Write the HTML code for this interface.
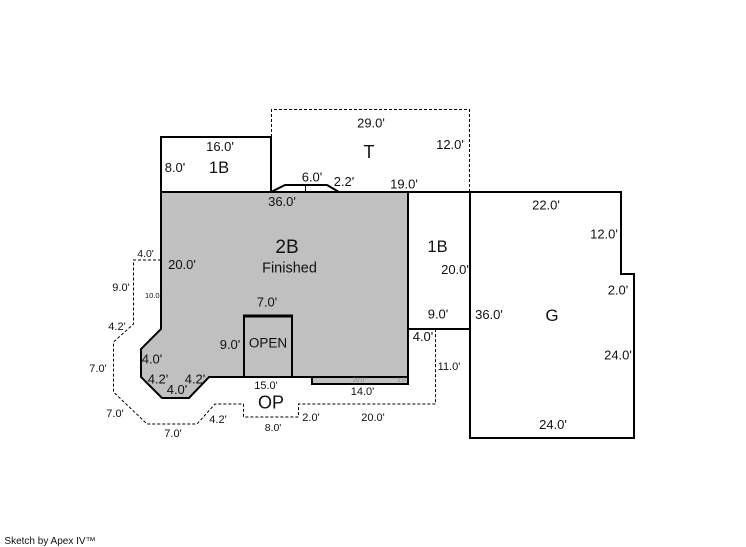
<!DOCTYPE html>
<html>
<head>
<meta charset="utf-8">
<style>
html,body{margin:0;padding:0;background:#fff;width:746px;height:547px;overflow:hidden}
svg{display:block}
text{font-family:"Liberation Sans",Arial,sans-serif;font-size:13px;fill:#111;text-anchor:middle}
.s{font-size:11px}
</style>
</head>
<body>
<svg width="746" height="547" viewBox="0 0 746 547" xmlns="http://www.w3.org/2000/svg">
<polygon points="161,192 408,192 408,384 312,384 312,377 209,377 189,398 162,398 141,377 141,349 161,329" fill="#c0c0c0" stroke="#000" stroke-width="2"/>
<polyline points="312,377 408,377" fill="none" stroke="#000" stroke-width="2"/>
<polyline points="244,377 244,316 292,316 292,377" fill="none" stroke="#000" stroke-width="2"/>
<line x1="243" y1="316" x2="293" y2="316" stroke="#000" stroke-width="3"/>
<polyline points="161,260 133.5,260 133.5,324 113.5,342 113.5,392 147,424 197,424 215,404 243.5,404 243.5,417 298.5,417 298.5,404 435.5,404 435.5,329" fill="none" stroke="#000" stroke-width="1" stroke-dasharray="3,2"/>
<polyline points="271.5,137 271.5,109.5 469.5,109.5 469.5,192" fill="none" stroke="#000" stroke-width="1" stroke-dasharray="3,2"/>
<rect x="161" y="137" width="110" height="55" fill="#fff" stroke="#000" stroke-width="2"/>
<polyline points="271,192 285,185 327,185 339,192" fill="none" stroke="#000" stroke-width="2"/>
<line x1="305.500" y1="185" x2="305.500" y2="192" stroke="#000" stroke-width="1"/>
<line x1="271" y1="192" x2="470" y2="192" stroke="#000" stroke-width="2"/>
<polyline points="408,192 408,329 470,329" fill="none" stroke="#000" stroke-width="2"/>
<polygon points="470,192 621,192 621,274 634,274 634,438 470,438" fill="#fff" stroke="#000" stroke-width="2"/>

<text x="220" y="151">16.0'</text>
<text x="175" y="172">8.0'</text>
<text x="219" y="173" style="font-size:16.500px">1B</text>
<text x="371" y="127.500">29.0'</text>
<text x="369" y="158" style="font-size:18px">T</text>
<text x="450" y="149">12.0'</text>
<text x="312" y="181.500">6.0'</text>
<text x="344" y="186">2.2'</text>
<text x="404" y="188.500">19.0'</text>
<text x="282" y="206">36.0'</text>
<text x="287" y="253" style="font-size:19px">2B</text>
<text x="289.500" y="272.500" style="font-size:14.500px">Finished</text>
<text x="182" y="269">20.0'</text>
<text x="145.500" y="257" style="font-size:10.500px">4.0'</text>
<text x="121" y="291" style="font-size:11px">9.0'</text>
<text x="153" y="298" style="font-size:7.500px">10.0'</text>
<text x="117" y="330" class="s">4.2'</text>
<text x="98" y="372" class="s">7.0'</text>
<text x="115" y="417" class="s">7.0'</text>
<text x="173" y="437" class="s">7.0'</text>
<text x="218" y="423" class="s">4.2'</text>
<text x="267" y="306.500">7.0'</text>
<text x="230" y="349">9.0'</text>
<text x="268" y="347.500" style="font-size:13.500px">OPEN</text>
<text x="152" y="363.500">4.0'</text>
<text x="158" y="383.500">4.2'</text>
<text x="195" y="383.500">4.2'</text>
<text x="177" y="394">4.0'</text>
<text x="266" y="389" style="font-size:11px">15.0'</text>
<text x="271" y="408.500" style="font-size:18px">OP</text>
<text x="273" y="431" style="font-size:10.500px">8.0'</text>
<text x="311" y="421" class="s">2.0'</text>
<text x="373" y="421" class="s">20.0'</text>
<text x="362.500" y="395" class="s">14.0'</text>
<text x="359" y="382" style="font-size:6px;fill:#888">20.0'</text>
<text x="402" y="382" style="font-size:6px;fill:#888">1.0'</text>
<text x="449" y="370" class="s">11.0'</text>
<text x="423" y="341">4.0'</text>
<text x="438" y="318.500">9.0'</text>
<text x="437.500" y="252" style="font-size:16.500px">1B</text>
<text x="455" y="274">20.0'</text>
<text x="489" y="319">36.0'</text>
<text x="546" y="209.500">22.0'</text>
<text x="604" y="238.500">12.0'</text>
<text x="618" y="294.500">2.0'</text>
<text x="552" y="321" style="font-size:17px">G</text>
<text x="618" y="359.500">24.0'</text>
<text x="553" y="429">24.0'</text>
<text x="50" y="544" style="font-size:10px">Sketch by Apex IV™</text>
</svg>
</body>
</html>
